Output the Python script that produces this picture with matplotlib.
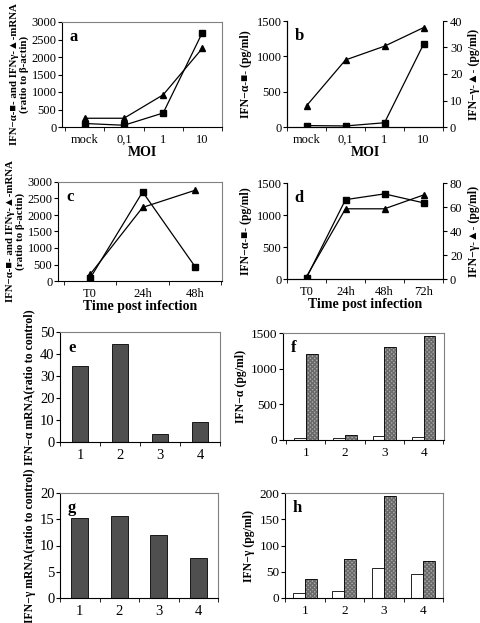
import matplotlib
matplotlib.use("Agg")
import matplotlib.pyplot as plt
import numpy as np

plt.rcParams['font.family'] = ['Liberation Serif', 'DejaVu Serif']
plt.rcParams['font.size'] = 9

# ---- data ----
moi_labels = ["mock", "0,1", "1", "10"]
a_alpha = [100, 50, 400, 2700]
a_gamma = [250, 250, 920, 2250]
b_alpha = [20, 15, 60, 1170]
b_gamma = [8, 25.3, 30.5, 37.5]

time_c = ["T0", "24h", "48h"]
c_alpha = [80, 2700, 430]
c_gamma = [200, 2230, 2750]
time_d = ["T0", "24h", "48h", "72h"]
d_alpha = [20, 1240, 1330, 1190]
d_gamma = [2, 58.5, 58.5, 70]

groups = ["1", "2", "3", "4"]
e_vals = [34.5, 44.5, 3.5, 9]
f_white = [30, 30, 50, 40]
f_gray = [1210, 70, 1310, 1460]
g_vals = [15.2, 15.6, 12, 7.6]
h_white = [9, 14, 58, 45]
h_gray = [37, 75, 195, 70]

W, H = 480, 623
fig = plt.figure(figsize=(W / 100, H / 100), dpi=100)


def ax_px(l, t, r, b):
    return fig.add_axes([l / W, 1 - b / H, (r - l) / W, (b - t) / H])


def style(ax, labels, xlim, ylim, yticks, letter, box=True, fs=9):
    n = len(labels)
    ax.set_xlim(*xlim)
    ax.set_ylim(*ylim)
    ax.set_xticks(range(n))
    ax.set_xticklabels(labels)
    ax.set_xticks(np.arange(-0.5, n, 1.0), minor=True)
    ax.tick_params(axis='x', which='major', length=0, pad=5, labelsize=fs)
    ax.tick_params(axis='x', which='minor', length=3, direction='out')
    ax.set_yticks(yticks)
    ax.tick_params(axis='y', length=3, direction='out', labelsize=fs, pad=1)
    for s in ['left', 'bottom']:
        ax.spines[s].set_color('black')
        ax.spines[s].set_linewidth(0.8)
    if box:
        for s in ['top', 'right']:
            ax.spines[s].set_color('#808080')
            ax.spines[s].set_linewidth(0.8)
    else:
        ax.spines['top'].set_visible(False)
    ax.text(0.05, 0.93, letter, transform=ax.transAxes, fontsize=12,
            fontweight='bold', va='top', ha='left')


bold = dict(fontweight='bold', fontsize=8.5)
bold_small = dict(fontweight='bold', fontsize=7.8)

# ---- panel a ----
ax = ax_px(62, 22, 222, 127)
x = np.arange(4)
ax.plot(x, a_alpha, 'k-', marker='s', ms=4.3, lw=0.9)
ax.plot(x, a_gamma, 'k-', marker='^', ms=4.8, lw=0.9)
style(ax, moi_labels, (-0.58, 3.48), (0, 3000), range(0, 3001, 500), 'a')
ax.set_xlabel("MOI", fontweight='bold', fontsize=10, labelpad=0)
ax.set_ylabel("IFN\u2212\u03b1-\u25a0- and IFN\u03b3-\u25b2-mRNA\n(ratio to \u03b2-actin)",
              **bold_small, labelpad=2, linespacing=1.0)

# ---- panel b ----
ax = ax_px(287, 21, 443, 127)
ax.plot(x, b_alpha, 'k-', marker='s', ms=4.3, lw=0.9)
style(ax, moi_labels, (-0.5, 3.5), (0, 1500), range(0, 1501, 500), 'b', box=False)
ax.spines['right'].set_visible(False)
ax.set_xlabel("MOI", fontweight='bold', fontsize=10, labelpad=0)
ax.set_ylabel("IFN\u2212\u03b1-\u25a0- (pg/ml)", **bold, labelpad=3)
ax2 = ax.twinx()
ax2.plot(x, b_gamma, 'k-', marker='^', ms=4.8, lw=0.9)
ax2.set_ylim(0, 40)
ax2.set_yticks(range(0, 41, 10))
ax2.tick_params(axis='y', length=3, labelsize=9, pad=2)
ax2.spines['top'].set_visible(False)
ax2.spines['right'].set_linewidth(0.8)
ax2.set_ylabel("IFN\u2212\u03b3-\u25b2- (pg/ml)", **bold, labelpad=4)

# ---- panel c ----
ax = ax_px(58, 182, 222, 281)
xc = np.arange(3)
ax.plot(xc, c_alpha, 'k-', marker='s', ms=4.3, lw=0.9)
ax.plot(xc, c_gamma, 'k-', marker='^', ms=4.8, lw=0.9)
style(ax, time_c, (-0.61, 2.51), (0, 3000), range(0, 3001, 500), 'c')
ax.set_xlabel("Time post infection", fontweight='bold', fontsize=10, labelpad=0)
ax.set_ylabel("IFN\u2212\u03b1-\u25a0- and IFN\u03b3-\u25b2-mRNA\n(ratio to \u03b2-actin)",
              **bold_small, labelpad=2, linespacing=1.0)

# ---- panel d ----
ax = ax_px(287, 183, 443, 279)
xd = np.arange(4)
ax.plot(xd, d_alpha, 'k-', marker='s', ms=4.3, lw=0.9)
style(ax, time_d, (-0.4, 3.5), (0, 1500), range(0, 1501, 500), 'd', box=False)
ax.spines['right'].set_visible(False)
ax.set_xlabel("Time post infection", fontweight='bold', fontsize=10, labelpad=0)
ax.set_ylabel("IFN\u2212\u03b1-\u25a0- (pg/ml)", **bold, labelpad=3)
ax2 = ax.twinx()
ax2.plot(xd, d_gamma, 'k-', marker='^', ms=4.8, lw=0.9)
ax2.set_ylim(0, 80)
ax2.set_yticks(range(0, 81, 20))
ax2.tick_params(axis='y', length=3, labelsize=9, pad=2)
ax2.spines['top'].set_visible(False)
ax2.spines['right'].set_linewidth(0.8)
ax2.set_ylabel("IFN\u2212\u03b3-\u25b2- (pg/ml)", **bold, labelpad=4)


def single_bars(ax, vals):
    ax.bar(np.arange(len(vals)), vals, width=0.42, color='#4f4f4f',
           edgecolor='black', linewidth=0.6)


def pair_bars(ax, white, gray):
    xs = np.arange(len(white))
    ax.bar(xs - 0.15, white, width=0.3, color='white', edgecolor='black', linewidth=0.6)
    ax.bar(xs + 0.15, gray, width=0.3, color='#a8a8a8', edgecolor='#6a6a6a',
           hatch='xxxxxxxx', linewidth=0)
    ax.bar(xs + 0.15, gray, width=0.3, fill=False, edgecolor='black', linewidth=0.6)


# ---- panel e ----
ax = ax_px(60, 332, 220, 442)
single_bars(ax, e_vals)
style(ax, groups, (-0.5, 3.5), (0, 50), range(0, 51, 10), 'e', fs=10.5)
ax.set_ylabel("IFN\u2212\u03b1 mRNA(ratio to control)", **bold, labelpad=3)

# ---- panel f ----
ax = ax_px(283, 333, 444, 440)
pair_bars(ax, f_white, f_gray)
style(ax, groups, (-0.58, 3.52), (0, 1500), range(0, 1501, 500), 'f', fs=9.5)
ax.set_ylabel("IFN\u2212\u03b1 (pg/ml)", **bold, labelpad=3)

# ---- panel g ----
ax = ax_px(60, 493, 218, 598)
single_bars(ax, g_vals)
style(ax, groups, (-0.5, 3.5), (0, 20), range(0, 21, 5), 'g', fs=10.5)
ax.set_ylabel("IFN\u2212\u03b3 mRNA(ratio to control)", **bold, labelpad=3)

# ---- panel h ----
ax = ax_px(285, 493, 443, 598)
pair_bars(ax, h_white, h_gray)
style(ax, groups, (-0.5, 3.5), (0, 200), range(0, 201, 50), 'h', fs=9.5)
ax.set_ylabel("IFN\u2212\u03b3 (pg/ml)", **bold, labelpad=3)

fig.savefig("out.png", dpi=100)
